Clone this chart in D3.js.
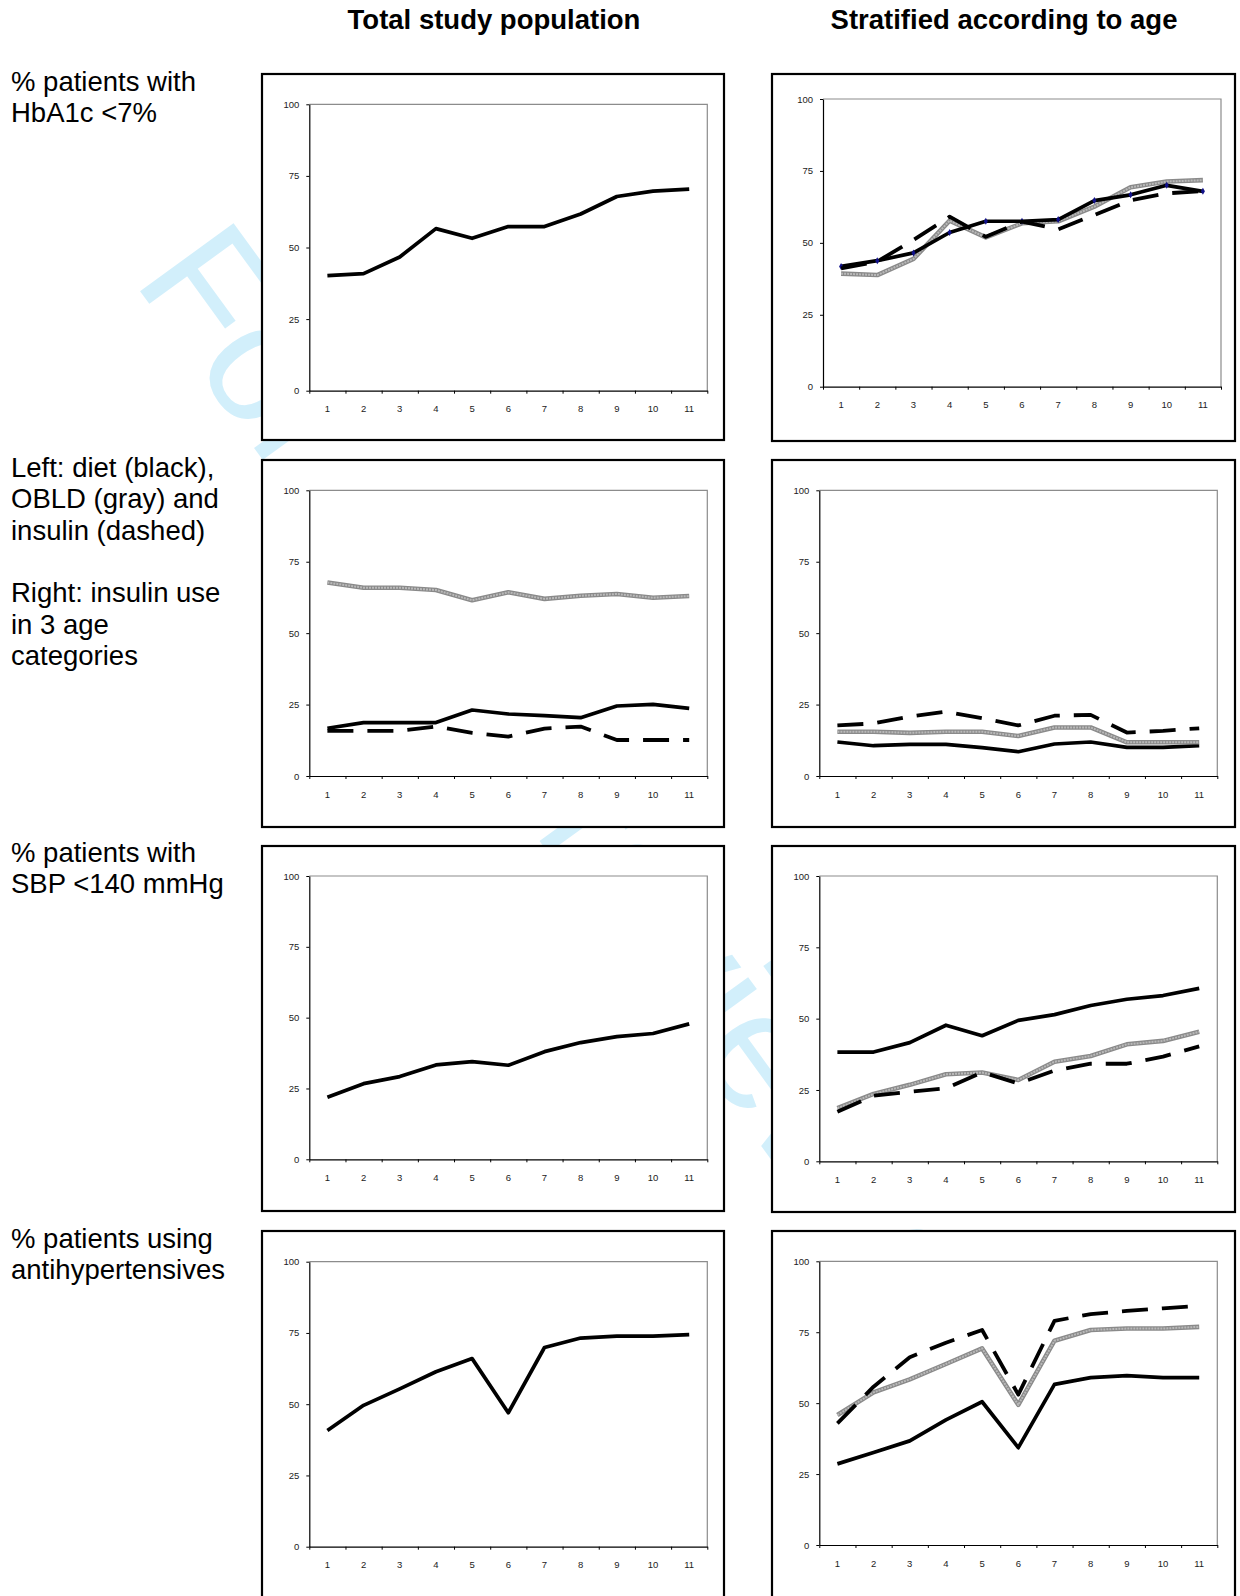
<!DOCTYPE html>
<html>
<head>
<meta charset="utf-8">
<script src="https://cdn.jsdelivr.net/npm/d3@7"></script>
<style>
  body { margin: 0; background: #fff; }
  svg { display: block; }
  text { font-family: "Liberation Sans", Arial, Helvetica, sans-serif; }
</style>
</head>
<body>
<div id="chart"></div>
<script>
// ---- data -------------------------------------------------------------
const periods = ["1", "2", "3", "4", "5", "6", "7", "8", "9", "10", "11"];
const yTicks = [0, 25, 50, 75, 100];

const columnTitles = ["Total study population", "Stratified according to age"];
const rowLabels = [
  ["% patients with", "HbA1c <7%"],
  ["Left: diet (black),", "OBLD (gray) and", "insulin (dashed)", "", "Right: insulin use", "in 3 age", "categories"],
  ["% patients with", "SBP <140 mmHg"],
  ["% patients using", "antihypertensives"]
];

// HbA1c < 7 %
const hba1cTotal     = [40.2, 40.9, 46.7, 56.6, 53.2, 57.3, 57.3, 61.7, 67.8, 69.7, 70.4];
const hba1cAgeBlack  = [41.8, 43.8, 46.5, 53.6, 57.5, 57.5, 58.1, 64.7, 66.7, 70.0, 67.9];
const hba1cAgeGray   = [39.3, 38.8, 44.4, 57.7, 51.9, 56.8, 57.5, 62.6, 69.3, 71.3, 71.8];
const hba1cAgeDashed = [41.1, 43.5, 51.0, 59.1, 52.1, 57.4, 54.7, 59.7, 64.8, 67.2, 68.0];

// glucose-lowering treatment
const treatDiet    = [16.7, 18.7, 18.7, 18.7, 23.1, 21.7, 21.1, 20.4, 24.5, 25.1, 23.7];
const treatOBLD    = [67.7, 65.9, 65.9, 65.1, 61.5, 64.3, 62.0, 63.1, 63.7, 62.4, 63.0];
const treatInsulin = [15.8, 15.8, 15.8, 17.3, 15.1, 13.8, 16.6, 17.3, 12.6, 12.6, 12.6];
const insulinAgeBlack  = [11.9, 10.6, 11.1, 11.1, 9.9, 8.5, 11.2, 11.9, 10.0, 10.0, 10.6];
const insulinAgeGray   = [15.5, 15.5, 15.1, 15.5, 15.5, 14.0, 17.0, 17.0, 11.8, 11.8, 11.8];
const insulinAgeDashed = [17.7, 18.4, 20.8, 22.5, 20.2, 17.7, 21.1, 21.4, 15.2, 15.8, 16.7];

// SBP < 140 mmHg
const sbpTotal     = [21.9, 26.7, 29.2, 33.3, 34.5, 33.2, 38.0, 41.2, 43.3, 44.4, 47.8];
const sbpAgeBlack  = [38.3, 38.3, 41.6, 47.7, 44.0, 49.4, 51.4, 54.6, 56.8, 58.1, 60.6];
const sbpAgeGray   = [18.6, 23.6, 26.8, 30.5, 31.1, 28.5, 34.9, 36.9, 41.0, 42.2, 45.4];
const sbpAgeDashed = [17.4, 23.0, 24.4, 25.6, 31.2, 27.3, 31.8, 34.2, 34.2, 36.7, 40.3];

// antihypertensive use
const antihypTotal     = [40.8, 49.6, 55.4, 61.4, 66.0, 47.0, 69.9, 73.2, 73.9, 73.9, 74.4];
const antihypAgeBlack  = [28.6, 32.6, 36.7, 44.1, 50.5, 34.3, 56.6, 59.0, 59.7, 59.0, 59.0];
const antihypAgeGray   = [45.8, 53.8, 58.4, 63.8, 69.3, 49.4, 72.0, 75.8, 76.3, 76.3, 76.9];
const antihypAgeDashed = [42.9, 55.8, 66.2, 71.3, 75.8, 53.0, 79.0, 81.4, 82.5, 83.4, 84.3];

// ---- layout -----------------------------------------------------------
const W = 1240, H = 1596;

const panels = [
  { box: [262, 74, 724, 440],   plot: [309.3, 104.3, 707.3, 390.7],
    series: [{ v: hba1cTotal, s: "solid" }] },
  { box: [772, 74, 1235, 441],  plot: [823, 99, 1221, 386.7],
    series: [{ v: hba1cAgeGray, s: "gray" }, { v: hba1cAgeBlack, s: "solid", markers: true },
             { v: hba1cAgeDashed, s: "dashed" }] },
  { box: [262, 460, 724, 827],  plot: [309.3, 490.3, 707.3, 776],
    series: [{ v: treatOBLD, s: "gray" }, { v: treatDiet, s: "solid" }, { v: treatInsulin, s: "dashed" }] },
  { box: [772, 460, 1235, 827], plot: [819.3, 490.3, 1217.3, 776],
    series: [{ v: insulinAgeBlack, s: "solid" }, { v: insulinAgeGray, s: "gray" },
             { v: insulinAgeDashed, s: "dashed" }] },
  { box: [262, 846, 724, 1211], plot: [309.3, 876, 707.3, 1159.3],
    series: [{ v: sbpTotal, s: "solid" }] },
  { box: [772, 846, 1235, 1212], plot: [819.3, 876, 1217.3, 1161.3],
    series: [{ v: sbpAgeBlack, s: "solid" }, { v: sbpAgeGray, s: "gray" }, { v: sbpAgeDashed, s: "dashed" }] },
  { box: [262, 1231, 724, 1640], plot: [309.3, 1261.7, 707.3, 1546.7],
    series: [{ v: antihypTotal, s: "solid" }] },
  { box: [772, 1231, 1235, 1640], plot: [819.3, 1261.3, 1217.3, 1545],
    series: [{ v: antihypAgeBlack, s: "solid" }, { v: antihypAgeGray, s: "gray" },
             { v: antihypAgeDashed, s: "dashed" }] }
];

const labelBlocks = [
  { x: 11, y: 91 }, { x: 11, y: 477 }, { x: 11, y: 862 }, { x: 11, y: 1248 }
];

// ---- drawing ----------------------------------------------------------
const svg = d3.select("#chart").append("svg")
  .attr("width", W).attr("height", H)
  .attr("viewBox", `0 0 ${W} ${H}`);

svg.append("rect").attr("width", W).attr("height", H).attr("fill", "#fff");

// faint diagonal watermark, underneath everything
svg.append("text")
  .attr("transform", "translate(132,280) rotate(54)")
  .attr("font-size", 168)
  .attr("fill", "#d2effb")
  .text("For peer review only");

// column titles
svg.selectAll("text.coltitle").data(columnTitles).join("text")
  .attr("class", "coltitle")
  .attr("x", (d, i) => i === 0 ? 494 : 1004)
  .attr("y", 29)
  .attr("text-anchor", "middle")
  .attr("font-size", 27.5)
  .attr("font-weight", "bold")
  .attr("fill", "#000")
  .text(d => d);

// row descriptions on the left
labelBlocks.forEach((b, i) => {
  const t = svg.append("text").attr("font-size", 27.5).attr("fill", "#000");
  rowLabels[i].forEach((line, j) => {
    t.append("tspan").attr("x", b.x).attr("y", b.y + j * 31.3).text(line);
  });
});

const styles = {
  solid:  [{ stroke: "#000", width: 3.7 }],
  gray:   [{ stroke: "#8a8a8a", width: 4.6 }, { stroke: "#b9b9b9", width: 2.0, dash: "2,1" }],
  dashed: [{ stroke: "#000", width: 3.8, dash: "26,14" }]
};

panels.forEach(p => {
  const [bx0, by0, bx1, by1] = p.box;
  const [px0, py0, px1, py1] = p.plot;
  const g = svg.append("g");

  g.append("rect")
    .attr("x", bx0).attr("y", by0)
    .attr("width", bx1 - bx0).attr("height", by1 - by0)
    .attr("fill", "#fff").attr("stroke", "#000").attr("stroke-width", 2.2);

  const x = d3.scaleBand().domain(periods).range([px0, px1]).padding(0);
  const xEdge = d3.scaleLinear().domain([0, periods.length]).range([px0, px1]);
  const y = d3.scaleLinear().domain([0, 100]).range([py1, py0]);

  // gray frame on top and right
  g.append("path")
    .attr("d", `M${px0},${py0}H${px1}V${py1}`)
    .attr("fill", "none").attr("stroke", "#8c8c8c").attr("stroke-width", 1.2);

  // y axis
  const ya = g.append("g").attr("transform", `translate(${px0},0)`)
    .call(d3.axisLeft(y).tickValues(yTicks).tickSize(3).tickSizeOuter(0).tickPadding(7));
  ya.select(".domain").attr("stroke", "#000").attr("stroke-width", 1.2);
  ya.selectAll(".tick line").attr("stroke", "#000");
  ya.selectAll("text").attr("font-size", 9.5).attr("fill", "#222")
    .attr("font-family", "Liberation Sans, Arial, sans-serif");

  // x axis: tick marks on category boundaries
  const xt = g.append("g").attr("transform", `translate(0,${py1})`)
    .call(d3.axisBottom(xEdge).tickValues(d3.range(0, periods.length + 1))
      .tickFormat("").tickSize(3).tickSizeOuter(0));
  xt.select(".domain").attr("stroke", "#000").attr("stroke-width", 1.2);
  xt.selectAll(".tick line").attr("stroke", "#000");

  // x axis: category labels centred in each band
  const xl = g.append("g").attr("transform", `translate(0,${py1})`)
    .call(d3.axisBottom(x).tickSize(0).tickPadding(15));
  xl.select(".domain").remove();
  xl.selectAll("text").attr("font-size", 9.5).attr("fill", "#222")
    .attr("font-family", "Liberation Sans, Arial, sans-serif");

  const line = d3.line()
    .x((d, i) => x(periods[i]) + x.bandwidth() / 2)
    .y(d => y(d));

  p.series.forEach(s => {
    styles[s.s].forEach(st => {
      g.append("path")
        .datum(s.v)
        .attr("d", line)
        .attr("fill", "none")
        .attr("stroke", st.stroke)
        .attr("stroke-width", st.width)
        .attr("stroke-linejoin", "round")
        .attr("stroke-dasharray", st.dash || null);
    });
    if (s.markers) {
      g.selectAll(null).data(s.v).join("path")
        .attr("transform", (d, i) => `translate(${x(periods[i]) + x.bandwidth() / 2},${y(d)})`)
        .attr("d", d3.symbol(d3.symbolDiamond, 14))
        .attr("fill", "#10108a");
    }
  });
});
</script>
</body>
</html>
